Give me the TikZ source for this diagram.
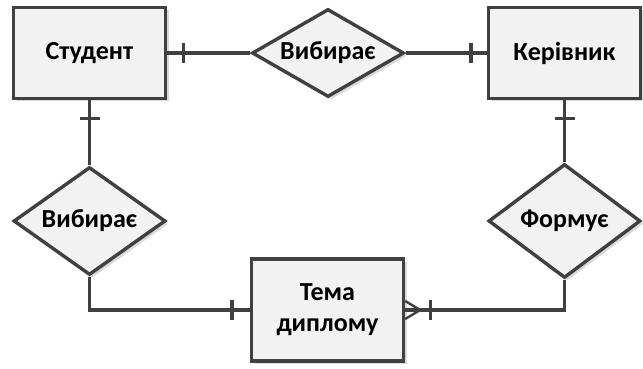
\documentclass[tikz,border=0pt]{standalone}
\usepackage{fontspec}
\setmainfont{Carlito}
\usetikzlibrary{shapes.geometric,shadows,decorations.markings}

\definecolor{linegray}{HTML}{404040}
\definecolor{boxgray}{HTML}{F2F2F2}

\begin{document}
\begin{tikzpicture}[x=1pt,y=-1pt,line width=3.4pt,
        entity/.style={rectangle,draw=linegray,fill=boxgray,minimum width=152pt,minimum height=91pt,
            align=center,font=\bfseries\fontsize{26}{31}\selectfont,
            drop shadow={shadow xshift=3pt,shadow yshift=-3pt,opacity=0.15,fill=black}},
        relation/.style={diamond,draw=linegray,fill=boxgray,inner sep=0pt,minimum width=152pt,
            font=\bfseries\fontsize{26}{30}\selectfont,
            drop shadow={shadow xshift=3pt,shadow yshift=-3pt,opacity=0.15,fill=black}},
        link/.style={draw=linegray,line width=3.4pt},
        onebar/.style={postaction={decorate,decoration={markings,
            mark=at position -#1 with {\draw[linegray,line width=3.4pt] (0,-10pt) -- (0,10pt);}}}},
        onebar/.default=16pt,
        crowfoot/.style={postaction={decorate,decoration={markings,
            mark=at position -15pt with {\draw[linegray,line width=2.4pt] (0,0) -- (15pt,-9pt) (0,0) -- (15pt,0) (0,0) -- (15pt,9pt);}}}}]

    \useasboundingbox (0,0) rectangle (643,369);

    % entities
    \node[entity] (stud) at (89.5,53) {Студент};
    \node[entity] (ker) at (564.5,53) {Керівник};
    \node[entity, minimum height=102pt] (tema) at (327.5,310) {Тема\\диплому};

    % relations
    \node[relation, minimum height=88pt, aspect=1.7] (vyb1) at (328,53) {Вибирає};
    \node[relation, minimum height=108pt, aspect=1.4] (vyb2) at (89.5,221) {Вибирає};
    \node[relation, minimum height=114pt, aspect=1.33] (form) at (564.5,221) {Формує};

    % connectors
    \path[link] (vyb1.west) edge[onebar] (stud.east)
                (vyb1.east) edge[onebar] (ker.west)
                (vyb2.north) edge[onebar=18pt] (stud.south)
                (form.north) edge[onebar=18pt] (ker.south);
    \draw[link, onebar=18pt] (vyb2.south) |- (tema.west);
    \draw[link, onebar=25pt, crowfoot] (form.south) |- (tema.east);

\end{tikzpicture}
\end{document}
